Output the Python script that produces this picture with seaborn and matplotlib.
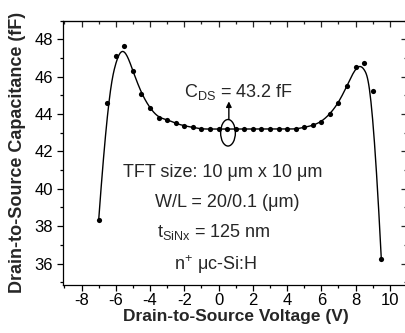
import numpy as np
import pandas as pd
import matplotlib
matplotlib.use("Agg")
import matplotlib.pyplot as plt
import seaborn as sns
from matplotlib.patches import Ellipse, FancyArrowPatch
from matplotlib.ticker import MultipleLocator

# Measured drain-to-source capacitance vs. drain-to-source voltage
voltage = [-7.0, -6.5, -6.0, -5.5, -5.0, -4.5, -4.0, -3.5, -3.0, -2.5, -2.0, -1.5,
           -1.0, -0.5, 0.0, 0.5, 1.0, 1.5, 2.0, 2.5, 3.0, 3.5, 4.0, 4.5,
           5.0, 5.5, 6.0, 6.5, 7.0, 7.5, 8.0, 8.5, 9.0, 9.5]
capacitance = [38.32, 44.60, 47.10, 47.62, 46.30, 45.09, 44.30, 43.80, 43.71, 43.50, 43.37, 43.29,
               43.20, 43.20, 43.20, 43.20, 43.20, 43.20, 43.20, 43.20, 43.20, 43.20, 43.20, 43.20,
               43.29, 43.39, 43.59, 44.00, 44.60, 45.51, 46.52, 46.71, 45.23, 36.25]
x_ticks = [-8, -6, -4, -2, 0, 2, 4, 6, 8, 10]
y_ticks = [36, 38, 40, 42, 44, 46, 48]
cds_value = 43.2

sns.set_style("ticks")
plt.rcParams["font.family"] = ["Liberation Sans", "DejaVu Sans"]
plt.rcParams["mathtext.fontset"] = "custom"
plt.rcParams["mathtext.rm"] = "Liberation Sans"
plt.rcParams["mathtext.it"] = "Liberation Sans"
plt.rcParams["axes.unicode_minus"] = False


def clamped_bspline(px, py, k=3, num=600):
    """Smooth cubic B-spline using the samples as control points."""
    px = np.asarray(px, float)
    py = np.asarray(py, float)
    n = len(px)
    t = np.concatenate([np.zeros(k), np.arange(n - k + 1), np.full(k, n - k)]).astype(float)
    u = np.linspace(0, n - k, num)
    B = np.zeros((num, len(t) - 1))
    for i in range(len(t) - 1):
        B[:, i] = (t[i] <= u) & (u < t[i + 1])
    last = np.where(t[:-1] < t[1:])[0][-1]
    B[u >= t[-1], last] = 1.0
    for d in range(1, k + 1):
        Bn = np.zeros((num, len(t) - 1 - d))
        for i in range(len(t) - 1 - d):
            a = t[i + d] - t[i]
            b = t[i + d + 1] - t[i + 1]
            term = np.zeros(num)
            if a > 0:
                term += (u - t[i]) / a * B[:, i]
            if b > 0:
                term += (t[i + d + 1] - u) / b * B[:, i + 1]
            Bn[:, i] = term
        B = Bn
    return B @ px, B @ py


df = pd.DataFrame({"V": voltage, "C": capacitance})
sx, sy = clamped_bspline(voltage, capacitance)
curve = pd.DataFrame({"V": sx, "C": sy})

fig = plt.figure(figsize=(4.06, 3.33), dpi=100)
ax = fig.add_axes([62.7 / 406, 1 - 285 / 333, (407 - 62.7) / 406, (285 - 20.7) / 333])

sns.lineplot(data=curve, x="V", y="C", sort=False, estimator=None, color="black",
             linewidth=1.0, ax=ax)
sns.scatterplot(data=df, x="V", y="C", color="black", s=14, linewidth=0, ax=ax, zorder=3)

ax.set_xlim(-9.1, 11)
ax.set_ylim(34.85, 49)
ax.set_xticks(x_ticks)
ax.set_yticks(y_ticks)
ax.set_xticklabels([str(v) for v in x_ticks])
ax.set_yticklabels([str(v) for v in y_ticks])
ax.xaxis.set_minor_locator(MultipleLocator(1))
ax.yaxis.set_minor_locator(MultipleLocator(1))
for s in ax.spines.values():
    s.set_visible(True)
    s.set_linewidth(0.9)
    s.set_color("black")
ax.tick_params(which="both", direction="out", top=False, right=False, width=0.9,
               colors="black", labelsize=12)
ax.tick_params(which="major", length=4)
ax.tick_params(axis="x", which="major", pad=2)
ax.tick_params(axis="y", which="major", pad=3)
ax.tick_params(which="minor", length=2.2)

# mirrored inward ticks on the top and right frame
top = ax.secondary_xaxis("top")
top.set_xticks(x_ticks)
top.xaxis.set_minor_locator(MultipleLocator(1))
top.tick_params(which="both", direction="in", labeltop=False, width=0.9)
top.tick_params(which="major", length=4)
top.tick_params(which="minor", length=2.2)
right = ax.secondary_yaxis("right")
right.set_yticks(y_ticks)
right.yaxis.set_minor_locator(MultipleLocator(1))
right.tick_params(which="both", direction="in", labelright=False, width=0.9)
right.tick_params(which="major", length=4)
right.tick_params(which="minor", length=2.2)

ax.set_xlabel("Drain-to-Source Voltage (V)", fontsize=12.5, fontweight="bold")
ax.set_ylabel("Drain-to-Source Capacitance (fF)", fontsize=13, fontweight="bold")
ax.xaxis.set_label_coords(0.502, -0.089)
ax.yaxis.set_label_coords(-0.107, 0.5)

# highlighted flat region and its value
ax.add_patch(Ellipse((0.55, 43.0), 0.86, 1.42, fill=False, edgecolor="black", linewidth=1.0,
                     zorder=4))
ax.add_patch(FancyArrowPatch((0.6, 43.71), (0.6, 44.68), arrowstyle="-|>", mutation_scale=8,
                             color="black", linewidth=1.0, shrinkA=0, shrinkB=0, zorder=4))
ax.text(1.15, 44.93, r"C$_{\mathregular{DS}}$ = " + f"{cds_value} fF", ha="center",
        va="baseline", fontsize=13)

ax.text(0.22, 40.64, "TFT size: 10 \u03bcm x 10 \u03bcm", ha="center", va="baseline", fontsize=13)
ax.text(0.50, 39.00, "W/L = 20/0.1 (\u03bcm)", ha="center", va="baseline", fontsize=13)
ax.text(-0.27, 37.43, r"t$_{\mathregular{SiNx}}$ = 125 nm", ha="center", va="baseline", fontsize=13)
ax.text(-0.22, 35.64, "n$^{\\mathregular{+}}$ \u03bcc-Si:H", ha="center", va="baseline",
        fontsize=13)

fig.savefig("out.png", dpi=100)
